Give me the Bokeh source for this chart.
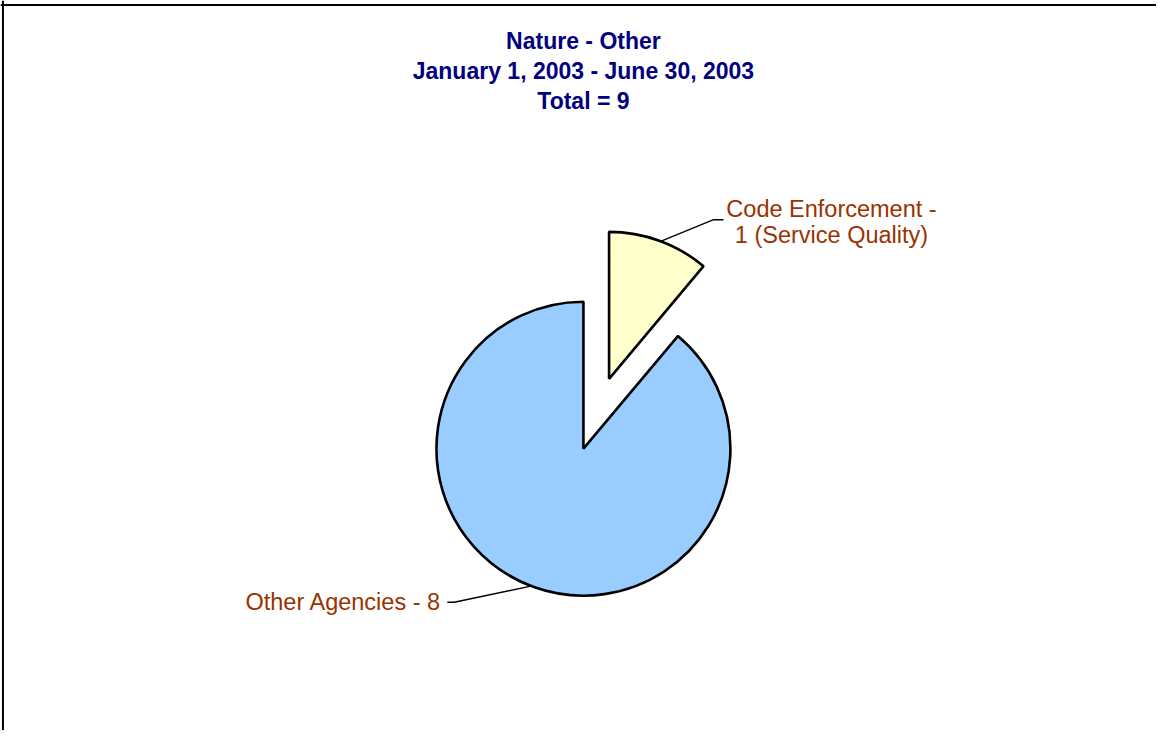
import math
from bokeh.plotting import figure
from bokeh.models import Range1d, Span
from bokeh.core.properties import value
from bokeh.embed import file_html
from bokeh.resources import INLINE

# ---- data ----
title_lines = ["Nature - Other", "January 1, 2003 - June 30, 2003", "Total = 9"]
categories = ["Code Enforcement", "Other Agencies"]
counts = [1, 8]
label_lines = [["Code Enforcement -", "1 (Service Quality)"], ["Other Agencies - 8"]]
colors = ["#FFFFCC", "#99CCFF"]
explode = [76, 0]

# canvas laid out in the reference's 1172 x 746 coordinate frame
RW, RH = 1172, 746
W, H = 1156, 730
p = figure(width=W, height=H, output_backend="svg", toolbar_location=None,
           x_range=Range1d(0, RW), y_range=Range1d(0, RH),
           x_axis_location=None, y_axis_location=None, min_border=0)
p.grid.visible = False
p.outline_line_color = None
p.background_fill_color = "white"
p.border_fill_color = "white"

# frame (top/left edges visible in the reference)
p.add_layout(Span(location=RH - 4.5, dimension="width", line_color="black", line_width=2))
p.add_layout(Span(location=2.5, dimension="height", line_color="black", line_width=2))

cx, cy, r = 591, 288, 149
total = sum(counts)
cum = 0
mids = []
centers = []
for i, c in enumerate(counts):
    a0 = 90 - cum / total * 360
    cum += c
    a1 = 90 - cum / total * 360
    mid = math.radians((a0 + a1) / 2)
    mids.append(mid)
    ox = cx + explode[i] * math.cos(mid)
    oy = cy + explode[i] * math.sin(mid)
    centers.append((ox, oy))
    p.wedge(x=[ox], y=[oy], radius=r, start_angle=[math.radians(a1)],
            end_angle=[math.radians(a0)], fill_color=colors[i],
            line_color="black", line_width=2.6)

# leader lines
(ox0, oy0) = centers[0]
ax0 = ox0 + r * math.cos(mids[0])
ay0 = oy0 + r * math.sin(mids[0])
p.line(x=[ax0, 723, 733], y=[ay0, 522, 522], line_color="black", line_width=1.4)

(ox1, oy1) = centers[1]
ax1 = ox1 + r * math.cos(mids[1])
ay1 = oy1 + r * math.sin(mids[1])
p.line(x=[ax1, 460, 453], y=[ay1, 131, 131], line_color="black", line_width=1.4)

font = value("Liberation Sans")
# title
p.text(x=[591] * 3, y=[704.7, 673.7, 643.7], text=title_lines, text_align="center",
       text_baseline="middle", text_font=font, text_font_size="23px",
       text_font_style="bold", text_color="#000080")
# labels
p.text(x=[842.5, 842.5], y=[532.5, 506], text=label_lines[0], text_align="center",
       text_baseline="middle", text_font=font, text_font_size="23.5px",
       text_color="#993300")
p.text(x=[447], y=[131], text=label_lines[1], text_align="right",
       text_baseline="middle", text_font=font, text_font_size="23.5px",
       text_color="#993300")

open("out.html", "w").write(file_html(p, INLINE))
